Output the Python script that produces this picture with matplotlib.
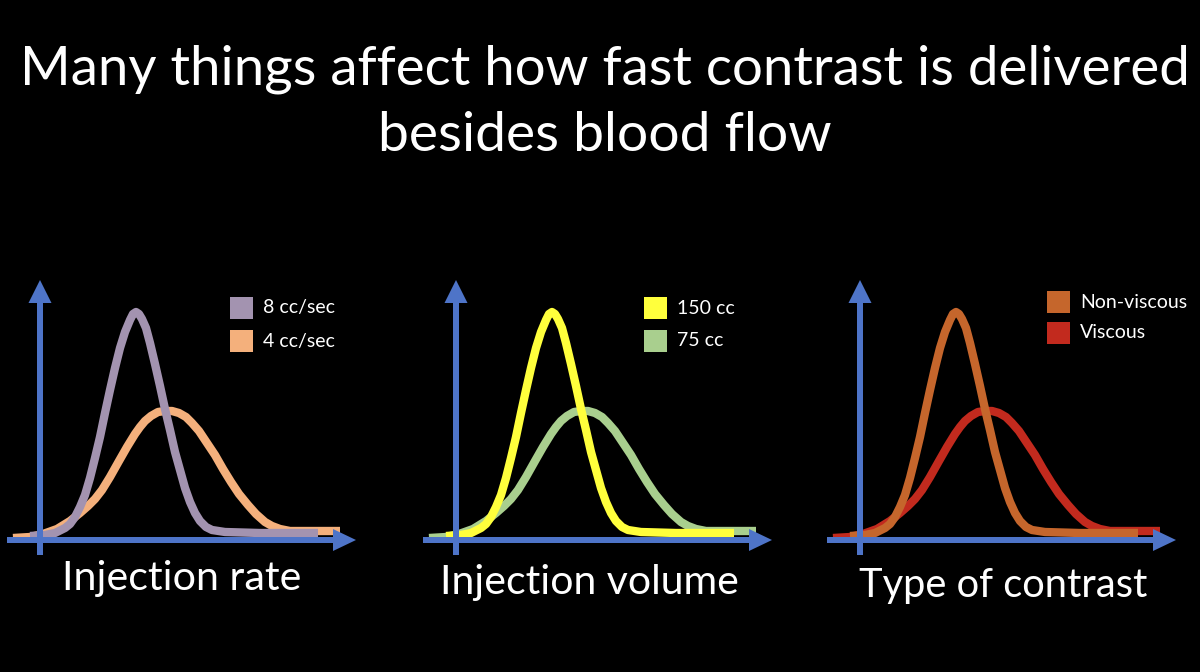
import matplotlib
matplotlib.use("Agg")
import matplotlib.pyplot as plt
from matplotlib.patches import Rectangle

W, H = 1200, 672
DPI = 100
FONT = ["Lato", "DejaVu Sans"]

title_lines = ["Many things affect how fast contrast is delivered", "besides blood flow"]
panel_titles = ["Injection rate", "Injection volume", "Type of contrast"]
legend_labels = [["8 cc/sec", "4 cc/sec"], ["150 cc", "75 cc"], ["Non-viscous", "Viscous"]]
fast_colors = ["#A393B0", "#FFFF3C", "#C5662C"]
slow_colors = ["#F4B07C", "#A9CF8E", "#C22A1E"]
axis_color = "#4E74C8"

# Sharp (fast) curve: time vs. enhancement
fast_x = [-10, 5, 15, 25, 30, 35, 40, 45, 50, 55, 60, 65, 70, 75, 80, 85, 90, 93, 96,
          99, 102, 106, 110, 115, 120, 125, 130, 135, 140, 145, 150, 155, 160, 166,
          172, 185, 220, 278]
fast_y = [4, 5, 7, 12, 16, 23, 33, 45, 62, 82, 103, 127, 150, 172, 192, 208, 220, 226, 228,
          226, 221, 212, 197, 176, 154, 131, 110, 88, 70, 52, 38, 27, 19, 13,
          10, 8, 7, 7]
# Broad (slow) curve
slow_x = [-27, -10, 3, 17, 30, 40, 48, 55, 62, 70, 79, 87, 95, 100, 105, 111, 118, 125, 132, 139,
          146, 152, 159, 167, 175, 183, 191, 199, 208, 216, 225, 232, 240, 250, 260, 300]
slow_y = [2, 3, 6, 11, 19, 27, 34, 41, 50, 63, 79, 93, 106, 113, 119, 124, 128, 129, 129, 127,
          123, 117, 109, 97, 85, 71, 58, 46, 35, 26, 18, 14, 11, 9, 9, 9]

# panel origins in pixels (x of y-axis, y of x-axis)
origins = [(40, 540), (456, 540), (860, 540)]
legend_y = [(232, 199), (232, 199), (238, 207)]
legend_x = [190, 188, 187]
title_px = [(182, 590), (589, 594), (1003, 597)]
title_w = [239, 299, 289]

fig = plt.figure(figsize=(W / DPI, H / DPI), dpi=DPI, facecolor="black")

XL, XR, YB, YT = -40, 325, -25, 270
for i, (ox, oy) in enumerate(origins):
    left = (ox + XL) / W
    bottom = (H - (oy - YB)) / H
    ax = fig.add_axes([left, bottom, (XR - XL) / W, (YT - YB) / H])
    ax.set_xlim(XL, XR)
    ax.set_ylim(YB, YT)
    ax.set_facecolor("black")
    ax.axis("off")
    ax.plot(slow_x, slow_y, color=slow_colors[i], lw=6.0, solid_capstyle="butt",
            solid_joinstyle="round", zorder=2)
    ax.plot(fast_x, fast_y, color=fast_colors[i], lw=6.0, solid_capstyle="butt",
            solid_joinstyle="round", zorder=3)
    # axes arrows
    ax.arrow(0, -15, 0, 275, width=6, head_width=23, head_length=23,
             length_includes_head=True, color=axis_color, lw=0, zorder=5)
    ax.arrow(-33, 0, 349, 0, width=6, head_width=22, head_length=23,
             length_includes_head=True, color=axis_color, lw=0, zorder=5)
    # legend
    for j, lab in enumerate(legend_labels[i]):
        cy = legend_y[i][j]
        col = fast_colors[i] if j == 0 else slow_colors[i]
        ax.add_patch(Rectangle((legend_x[i], cy - 11), 23, 22, color=col, lw=0, zorder=4))
        ax.text(legend_x[i] + 33, cy, lab, color="white", fontsize=14, family=FONT,
                va="center", ha="left", zorder=4)

# texts with width fitting
fig.canvas.draw()
renderer = fig.canvas.get_renderer()

def fit_text(s, x, y, target_w, fs0):
    t = fig.text(x / W, 1 - y / H, s, color="white", fontsize=fs0, family=FONT,
                 ha="center", va="baseline")
    w = t.get_window_extent(renderer).width
    t.set_fontsize(fs0 * target_w / w)
    return t

fit_text(title_lines[0], 605, 84, 1170, 40)
fit_text(title_lines[1], 605, 151, 454, 40)
for (x, y), tw, s in zip(title_px, title_w, panel_titles):
    fit_text(s, x, y, tw, 28)

fig.savefig("out.png", dpi=DPI, facecolor="black")
